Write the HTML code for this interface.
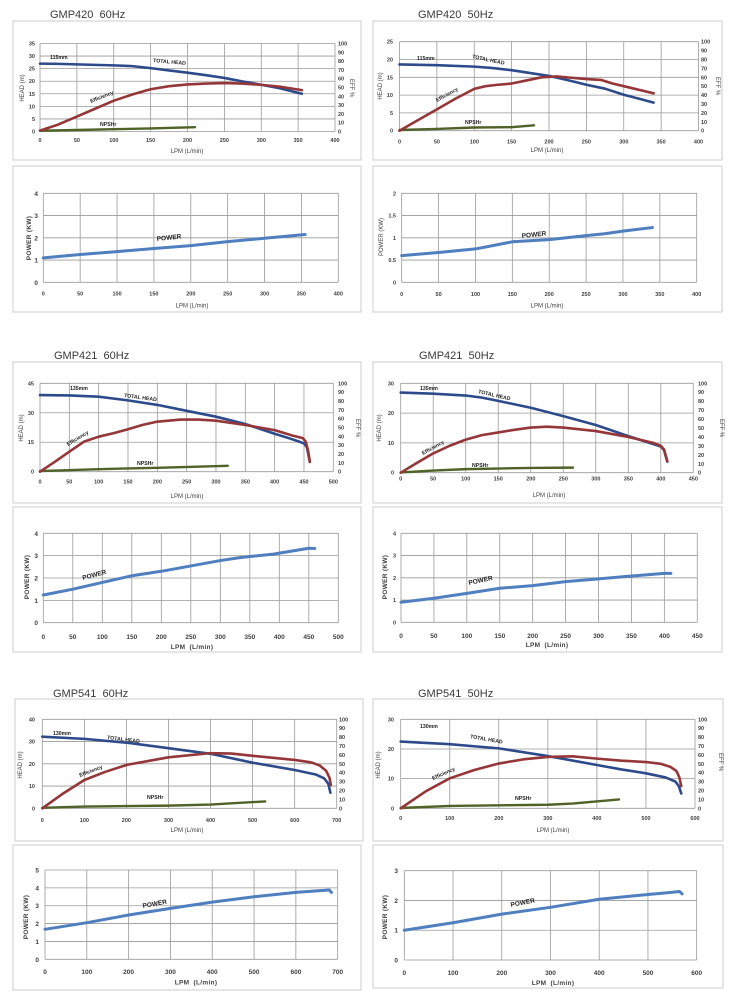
<!DOCTYPE html>
<html><head><meta charset="utf-8"><style>
html,body{margin:0;padding:0;background:#fff;}
svg{display:block;}
text{font-family:"Liberation Sans",Arial,sans-serif;fill:#404040;}
.ttl{font-size:11px;fill:#3a3a3a;white-space:pre;}
.tk{font-size:5.5px;font-weight:bold;}
.tp{font-size:6.5px;font-weight:bold;}
.ax{font-size:6px;}
.axb{font-size:6.5px;font-weight:bold;letter-spacing:0.3px;}
.lb{font-size:5.2px;font-weight:bold;fill:#222;}
.lp{font-size:6.5px;font-weight:bold;fill:#222;}
.e{text-anchor:end;}
.m{text-anchor:middle;}
.box{fill:none;stroke:#d6d6d6;stroke-width:1.2;}
.g{fill:none;stroke:#9a9a9a;stroke-width:0.8;vector-effect:non-scaling-stroke;}
.h{fill:none;stroke:#2d4b8b;stroke-width:2.6;vector-effect:non-scaling-stroke;stroke-linejoin:round;stroke-linecap:round;}
.ef{fill:none;stroke:#953638;stroke-width:2.6;vector-effect:non-scaling-stroke;stroke-linejoin:round;stroke-linecap:round;}
.n{fill:none;stroke:#4f6228;stroke-width:2.4;vector-effect:non-scaling-stroke;stroke-linejoin:round;stroke-linecap:round;}
.p{fill:none;stroke:#4f7fbf;stroke-width:3;vector-effect:non-scaling-stroke;stroke-linejoin:round;stroke-linecap:round;}
</style></head><body>
<svg width="731" height="1003" viewBox="0 0 731 1003" xmlns="http://www.w3.org/2000/svg">
<rect x="0" y="0" width="731" height="1003" fill="#fff"/>

<!-- boxes -->
<rect class="box" x="13" y="21" width="348" height="139"/>
<rect class="box" x="13" y="166" width="348" height="146"/>
<rect class="box" x="373" y="21" width="349" height="139"/>
<rect class="box" x="373" y="166" width="349" height="146"/>
<rect class="box" x="13" y="362" width="348" height="141"/>
<rect class="box" x="13" y="507" width="348" height="145"/>
<rect class="box" x="373" y="362" width="349" height="141"/>
<rect class="box" x="373" y="507" width="349" height="145"/>
<rect class="box" x="15" y="699" width="348" height="142"/>
<rect class="box" x="13" y="845" width="348" height="145"/>
<rect class="box" x="373" y="699" width="350" height="142"/>
<rect class="box" x="373" y="845" width="350" height="143"/>

<!-- titles -->
<text class="ttl" x="50" y="18">GMP420  60Hz</text>
<text class="ttl" x="418" y="18">GMP420  50Hz</text>
<text class="ttl" x="54" y="359">GMP421  60Hz</text>
<text class="ttl" x="419" y="359">GMP421  50Hz</text>
<text class="ttl" x="53" y="697">GMP541  60Hz</text>
<text class="ttl" x="418" y="697">GMP541  50Hz</text>

<!-- ================= P1 ================= -->
<g transform="translate(40,131.5) scale(0.7375,-2.5143)">
<path class="g" d="M0 0V35M50 0V35M100 0V35M150 0V35M200 0V35M250 0V35M300 0V35M350 0V35M400 0V35M0 0H400M0 5H400M0 10H400M0 15H400M0 20H400M0 25H400M0 30H400M0 35H400"/>
<polyline class="n" points="0,0.3 50,0.6 100,0.9 150,1.2 210,1.7"/>
<polyline class="h" points="0,27 25,26.9 50,26.7 75,26.5 100,26.3 125,26 150,25.2 175,24.3 200,23.4 225,22.4 250,21.3 275,19.9 300,18.6 325,17.2 355,15"/>
</g>
<g transform="translate(40,131.5) scale(0.7375,-0.88)">
<polyline class="ef" points="0,1 25,8 50,17 75,26 100,35 125,42 150,48 175,51.5 200,53.5 225,54.5 250,55 275,54.5 300,53 325,51 355,47"/>
</g>
<g class="tk e"><text x="35" y="133.5">0</text><text x="35" y="120.9">5</text><text x="35" y="108.4">10</text><text x="35" y="95.8">15</text><text x="35" y="83.2">20</text><text x="35" y="70.6">25</text><text x="35" y="58.1">30</text><text x="35" y="45.5">35</text></g>
<g class="tk"><text x="338" y="133.5">0</text><text x="338" y="124.7">10</text><text x="338" y="115.9">20</text><text x="338" y="107.1">30</text><text x="338" y="98.3">40</text><text x="338" y="89.5">50</text><text x="338" y="80.7">60</text><text x="338" y="71.9">70</text><text x="338" y="63.1">80</text><text x="338" y="54.3">90</text><text x="338" y="45.5">100</text></g>
<g class="tk m"><text x="40" y="142">0</text><text x="76.9" y="142">50</text><text x="113.8" y="142">100</text><text x="150.6" y="142">150</text><text x="187.5" y="142">200</text><text x="224.4" y="142">250</text><text x="261.3" y="142">300</text><text x="298.1" y="142">350</text><text x="335" y="142">400</text></g>
<text class="ax m" x="187" y="153">LPM (L/min)</text>
<text class="ax m" transform="translate(24,88) rotate(-90)">HEAD (m)</text>
<text class="ax m" transform="translate(350,88) rotate(90)">EFF %</text>
<text class="lb" x="50" y="59">115mm</text>
<text class="lb" transform="translate(153,62) rotate(5)">TOTAL HEAD</text>
<text class="lb" transform="translate(91,103) rotate(-22)">Efficiency</text>
<text class="lb" x="100" y="126">NPSHr</text>

<!-- ================= Q1 ================= -->
<g transform="translate(43.3,282.3) scale(0.7375,-22.25)">
<path class="g" d="M0 0V4M50 0V4M100 0V4M150 0V4M200 0V4M250 0V4M300 0V4M350 0V4M400 0V4M0 0H400M0 1H400M0 2H400M0 3H400M0 4H400"/>
<polyline class="p" points="0,1.1 50,1.25 100,1.38 150,1.52 200,1.65 250,1.83 300,1.98 355,2.15"/>
</g>
<g class="tp e"><text x="38" y="284.8">0</text><text x="38" y="262.5">1</text><text x="38" y="240.3">2</text><text x="38" y="218">3</text><text x="38" y="195.8">4</text></g>
<g class="tk m"><text x="43.3" y="295.5">0</text><text x="80.2" y="295.5">50</text><text x="117.1" y="295.5">100</text><text x="153.9" y="295.5">150</text><text x="190.8" y="295.5">200</text><text x="227.7" y="295.5">250</text><text x="264.6" y="295.5">300</text><text x="301.4" y="295.5">350</text><text x="338.3" y="295.5">400</text></g>
<text class="ax m" x="192" y="307.5">LPM (L/min)</text>
<text class="axb m" transform="translate(31,238) rotate(-90)">POWER (KW)</text>
<text class="lp" transform="translate(157,241) rotate(-6)">POWER</text>

<!-- ================= P2 ================= -->
<g transform="translate(399.5,130.7) scale(0.7475,-3.56)">
<path class="g" d="M0 0V25M50 0V25M100 0V25M150 0V25M200 0V25M250 0V25M300 0V25M350 0V25M400 0V25M0 0H400M0 5H400M0 10H400M0 15H400M0 20H400M0 25H400"/>
<polyline class="n" points="0,0.2 50,0.5 100,0.9 150,1.0 180,1.5"/>
<polyline class="h" points="0,18.6 50,18.4 100,18 125,17.6 150,17 175,16.2 200,15.4 225,14.2 250,12.9 275,11.8 300,10.1 320,9 340,7.9"/>
</g>
<g transform="translate(399.5,130.7) scale(0.7475,-0.89)">
<polyline class="ef" points="0,0 25,12 50,24 75,36 100,47 115,50 130,51.5 150,53 170,56.5 190,60 210,61 230,59.5 250,58 270,57 285,53 300,50 320,46 340,42"/>
</g>
<g class="tk e"><text x="393" y="132.7">0</text><text x="393" y="114.9">5</text><text x="393" y="97.1">10</text><text x="393" y="79.3">15</text><text x="393" y="61.5">20</text><text x="393" y="43.7">25</text></g>
<g class="tk"><text x="701" y="132.7">0</text><text x="701" y="123.8">10</text><text x="701" y="114.9">20</text><text x="701" y="106">30</text><text x="701" y="97.1">40</text><text x="701" y="88.2">50</text><text x="701" y="79.3">60</text><text x="701" y="70.4">70</text><text x="701" y="61.5">80</text><text x="701" y="52.6">90</text><text x="701" y="43.7">100</text></g>
<g class="tk m"><text x="399.5" y="143.5">0</text><text x="436.9" y="143.5">50</text><text x="474.3" y="143.5">100</text><text x="511.6" y="143.5">150</text><text x="549" y="143.5">200</text><text x="586.4" y="143.5">250</text><text x="623.8" y="143.5">300</text><text x="661.1" y="143.5">350</text><text x="698.5" y="143.5">400</text></g>
<text class="ax m" x="547" y="152">LPM (L/min)</text>
<text class="ax m" transform="translate(382,86) rotate(-90)">HEAD (m)</text>
<text class="ax m" transform="translate(716,86) rotate(90)">EFF %</text>
<text class="lb" x="417" y="60">115mm</text>
<text class="lb" transform="translate(472,58) rotate(12)">TOTAL HEAD</text>
<text class="lb" transform="translate(437,102) rotate(-29)">Efficiency</text>
<text class="lb" x="465" y="124">NPSHr</text>

<!-- ================= Q2 ================= -->
<g transform="translate(401.7,282.3) scale(0.7375,-44.5)">
<path class="g" d="M0 0V2M50 0V2M100 0V2M150 0V2M200 0V2M250 0V2M300 0V2M350 0V2M400 0V2M0 0H400M0 0.5H400M0 1H400M0 1.5H400M0 2H400"/>
<polyline class="p" points="0,0.6 50,0.67 100,0.75 125,0.83 150,0.91 200,0.96 250,1.05 275,1.09 300,1.15 340,1.23"/>
</g>
<g class="tk e"><text x="396" y="284.5">0</text><text x="396" y="262.2">0.5</text><text x="396" y="240">1</text><text x="396" y="217.7">1.5</text><text x="396" y="195.5">2</text></g>
<g class="tk m"><text x="401.7" y="296">0</text><text x="438.6" y="296">50</text><text x="475.5" y="296">100</text><text x="512.3" y="296">150</text><text x="549.2" y="296">200</text><text x="586.1" y="296">250</text><text x="623" y="296">300</text><text x="659.8" y="296">350</text><text x="696.7" y="296">400</text></g>
<text class="ax m" x="547" y="307.5">LPM (L/min)</text>
<text class="ax m" transform="translate(383,237) rotate(-90)">POWER (KW)</text>
<text class="lp" transform="translate(522,238) rotate(-6)">POWER</text>

<!-- ================= P3 ================= -->
<g transform="translate(40,471.7) scale(0.5866,-1.9644)">
<path class="g" d="M0 0V45M50 0V45M100 0V45M150 0V45M200 0V45M250 0V45M300 0V45M350 0V45M400 0V45M450 0V45M500 0V45M0 0H500M0 15H500M0 30H500M0 45H500"/>
<polyline class="n" points="0,0.3 100,1.3 200,2 320,3"/>
<polyline class="h" points="0,39 50,38.8 100,38.2 150,36.3 200,34 250,31 300,28 350,24.3 400,19.3 425,17 440,15.5 450,14.4 455,12.5 460,5"/>
</g>
<g transform="translate(40,471.7) scale(0.5866,-0.884)">
<polyline class="ef" points="0,0 25,11 50,22.6 75,34 100,39.6 125,43.5 150,48 175,53 200,56.6 240,59 270,59 300,57.7 350,52.8 400,47 430,41 448,38 453,34 457,24 460,11"/>
</g>
<g class="tk e"><text x="34" y="473.7">0</text><text x="34" y="444.2">15</text><text x="34" y="414.8">30</text><text x="34" y="385.3">45</text></g>
<g class="tk"><text x="338" y="473.7">0</text><text x="338" y="464.9">10</text><text x="338" y="456">20</text><text x="338" y="447.2">30</text><text x="338" y="438.3">40</text><text x="338" y="429.5">50</text><text x="338" y="420.7">60</text><text x="338" y="411.8">70</text><text x="338" y="403">80</text><text x="338" y="394.1">90</text><text x="338" y="385.3">100</text></g>
<g class="tk m"><text x="40" y="483.5">0</text><text x="69.3" y="483.5">50</text><text x="98.7" y="483.5">100</text><text x="128" y="483.5">150</text><text x="157.3" y="483.5">200</text><text x="186.7" y="483.5">250</text><text x="216" y="483.5">300</text><text x="245.3" y="483.5">350</text><text x="274.6" y="483.5">400</text><text x="304" y="483.5">450</text><text x="333.3" y="483.5">500</text></g>
<text class="ax m" x="187" y="498">LPM (L/min)</text>
<text class="ax m" transform="translate(23,428) rotate(-90)">HEAD (m)</text>
<text class="ax m" transform="translate(356,428) rotate(90)">EFF %</text>
<text class="lb" x="70" y="390">135mm</text>
<text class="lb" transform="translate(124,397) rotate(7.5)">TOTAL HEAD</text>
<text class="lb" transform="translate(68,446) rotate(-31)">Efficiency</text>
<text class="lb" x="137" y="465">NPSHr</text>

<!-- ================= Q3 ================= -->
<g transform="translate(43.3,622.7) scale(0.59,-22.35)">
<path class="g" d="M0 0V4M50 0V4M100 0V4M150 0V4M200 0V4M250 0V4M300 0V4M350 0V4M400 0V4M450 0V4M500 0V4M0 0H500M0 1H500M0 2H500M0 3H500M0 4H500"/>
<polyline class="p" points="0,1.24 50,1.5 100,1.8 150,2.1 200,2.3 250,2.54 300,2.78 330,2.9 350,2.96 390,3.07 450,3.33 460,3.32"/>
</g>
<g class="tp e"><text x="38" y="625.2">0</text><text x="38" y="602.9">1</text><text x="38" y="580.5">2</text><text x="38" y="558.1">3</text><text x="38" y="535.8">4</text></g>
<g class="tp m"><text x="43.3" y="639">0</text><text x="72.8" y="639">50</text><text x="102.3" y="639">100</text><text x="131.8" y="639">150</text><text x="161.3" y="639">200</text><text x="190.8" y="639">250</text><text x="220.3" y="639">300</text><text x="249.8" y="639">350</text><text x="279.3" y="639">400</text><text x="308.8" y="639">450</text><text x="338.3" y="639">500</text></g>
<text class="axb m" x="192" y="649" style="white-space:pre">LPM  (L/min)</text>
<text class="axb m" transform="translate(29,577) rotate(-90)">POWER (KW)</text>
<text class="lp" transform="translate(83,580) rotate(-15)">POWER</text>

<!-- ================= P4 ================= -->
<g transform="translate(400.7,472.7) scale(0.6502,-2.98)">
<path class="g" d="M0 0V30M50 0V30M100 0V30M150 0V30M200 0V30M250 0V30M300 0V30M350 0V30M400 0V30M450 0V30M0 0H450M0 10H450M0 20H450M0 30H450"/>
<polyline class="n" points="0,0.1 50,0.7 100,1.2 150,1.4 200,1.6 265,1.7"/>
<polyline class="h" points="0,26.9 50,26.5 100,25.9 125,25.2 150,24.1 200,21.8 250,19 300,16 350,12.3 390,9.5 400,8.8 405,7.6 410,3.7"/>
</g>
<g transform="translate(400.7,472.7) scale(0.6502,-0.894)">
<polyline class="ef" points="0,0 25,11 50,21.6 75,30 100,37 125,42 150,45 175,48 200,50.5 225,51.5 250,50.5 300,46.6 350,40 390,33 400,30 405,26 410,13"/>
</g>
<g class="tk e"><text x="394" y="474.7">0</text><text x="394" y="444.9">10</text><text x="394" y="415.1">20</text><text x="394" y="385.3">30</text></g>
<g class="tk"><text x="698" y="474.7">0</text><text x="698" y="465.8">10</text><text x="698" y="456.8">20</text><text x="698" y="447.9">30</text><text x="698" y="438.9">40</text><text x="698" y="430">50</text><text x="698" y="421">60</text><text x="698" y="412.1">70</text><text x="698" y="403.2">80</text><text x="698" y="394.2">90</text><text x="698" y="385.3">100</text></g>
<g class="tk m"><text x="400.7" y="480.5">0</text><text x="433.2" y="480.5">50</text><text x="465.7" y="480.5">100</text><text x="498.2" y="480.5">150</text><text x="530.8" y="480.5">200</text><text x="563.3" y="480.5">250</text><text x="595.8" y="480.5">300</text><text x="628.3" y="480.5">350</text><text x="660.8" y="480.5">400</text><text x="693.3" y="480.5">450</text></g>
<text class="ax m" x="549" y="497">LPM (L/min)</text>
<text class="ax m" transform="translate(381,428) rotate(-90)">HEAD (m)</text>
<text class="ax m" transform="translate(720,428) rotate(90)">EFF %</text>
<text class="lb" x="420" y="390">135mm</text>
<text class="lb" transform="translate(478,393) rotate(13)">TOTAL HEAD</text>
<text class="lb" transform="translate(423,455) rotate(-29)">Efficiency</text>
<text class="lb" x="472" y="467">NPSHr</text>

<!-- ================= Q4 ================= -->
<g transform="translate(401,622.3) scale(0.6584,-22.25)">
<path class="g" d="M0 0V4M50 0V4M100 0V4M150 0V4M200 0V4M250 0V4M300 0V4M350 0V4M400 0V4M450 0V4M0 0H450M0 1H450M0 2H450M0 3H450M0 4H450"/>
<polyline class="p" points="0,0.9 50,1.08 100,1.3 150,1.53 200,1.65 250,1.83 300,1.95 350,2.08 400,2.2 410,2.2"/>
</g>
<g class="tk e"><text x="396" y="624.5">0</text><text x="396" y="602.2">1</text><text x="396" y="580">2</text><text x="396" y="557.7">3</text><text x="396" y="535.5">4</text></g>
<g class="tp m"><text x="401" y="638">0</text><text x="433.9" y="638">50</text><text x="466.8" y="638">100</text><text x="499.8" y="638">150</text><text x="532.7" y="638">200</text><text x="565.6" y="638">250</text><text x="598.5" y="638">300</text><text x="631.4" y="638">350</text><text x="664.4" y="638">400</text><text x="697.3" y="638">450</text></g>
<text class="axb m" x="547" y="647" style="white-space:pre">LPM  (L/min)</text>
<text class="axb m" transform="translate(387,577) rotate(-90)">POWER (KW)</text>
<text class="lp" transform="translate(469,585) rotate(-12)">POWER</text>

<!-- ================= P5 ================= -->
<g transform="translate(42.3,808.3) scale(0.4206,-2.225)">
<path class="g" d="M0 0V40M100 0V40M200 0V40M300 0V40M400 0V40M500 0V40M600 0V40M700 0V40M0 0H700M0 10H700M0 20H700M0 30H700M0 40H700"/>
<polyline class="n" points="0,0.2 100,0.8 200,1 300,1.2 400,1.7 530,3.1"/>
<polyline class="h" points="0,32.2 100,31.2 200,29.5 300,27 400,24.5 500,20.5 600,17.2 650,15.2 670,13.5 680,11 685,7"/>
</g>
<g transform="translate(42.3,808.3) scale(0.4206,-0.89)">
<polyline class="ef" points="0,0 50,16.8 100,31.8 150,41 200,48.7 300,57.3 400,62 450,61.5 500,59 600,54.3 640,51.5 660,48 675,42 683,34 686,26"/>
</g>
<g class="tk e"><text x="35" y="810.3">0</text><text x="35" y="788.1">10</text><text x="35" y="765.8">20</text><text x="35" y="743.6">30</text><text x="35" y="721.3">40</text></g>
<g class="tk"><text x="339" y="810.3">0</text><text x="339" y="801.4">10</text><text x="339" y="792.5">20</text><text x="339" y="783.6">30</text><text x="339" y="774.7">40</text><text x="339" y="765.8">50</text><text x="339" y="756.9">60</text><text x="339" y="748">70</text><text x="339" y="739.1">80</text><text x="339" y="730.2">90</text><text x="339" y="721.3">100</text></g>
<g class="tk m"><text x="42.3" y="822">0</text><text x="84.4" y="822">100</text><text x="126.4" y="822">200</text><text x="168.5" y="822">300</text><text x="210.5" y="822">400</text><text x="252.6" y="822">500</text><text x="294.7" y="822">600</text><text x="336.7" y="822">700</text></g>
<text class="ax m" x="187" y="832">LPM (L/min)</text>
<text class="ax m" transform="translate(22,765) rotate(-90)">HEAD (m)</text>
<text class="lb" x="53" y="735">130mm</text>
<text class="lb" transform="translate(107,739) rotate(7)">TOTAL HEAD</text>
<text class="lb" transform="translate(80,777) rotate(-21)">Efficiency</text>
<text class="lb" x="147" y="799">NPSHr</text>

<!-- ================= Q5 ================= -->
<g transform="translate(45,959.3) scale(0.4181,-17.86)">
<path class="g" d="M0 0V5M100 0V5M200 0V5M300 0V5M400 0V5M500 0V5M600 0V5M700 0V5M0 0H700M0 1H700M0 2H700M0 3H700M0 4H700M0 5H700"/>
<polyline class="p" points="0,1.68 100,2.05 200,2.48 300,2.85 400,3.2 500,3.5 600,3.75 680,3.88 685,3.75"/>
</g>
<g class="tp e"><text x="39" y="961.8">0</text><text x="39" y="943.9">1</text><text x="39" y="926.1">2</text><text x="39" y="908.2">3</text><text x="39" y="890.4">4</text><text x="39" y="872.5">5</text></g>
<g class="tp m"><text x="45" y="974">0</text><text x="86.8" y="974">100</text><text x="128.6" y="974">200</text><text x="170.4" y="974">300</text><text x="212.2" y="974">400</text><text x="254.1" y="974">500</text><text x="295.9" y="974">600</text><text x="337.7" y="974">700</text></g>
<text class="axb m" x="196" y="984.5" style="white-space:pre">LPM  (L/min)</text>
<text class="axb m" transform="translate(28,917) rotate(-90)">POWER (KW)</text>
<text class="lp" transform="translate(143,908) rotate(-10)">POWER</text>

<!-- ================= P6 ================= -->
<g transform="translate(400.7,808.3) scale(0.4905,-2.9667)">
<path class="g" d="M0 0V30M100 0V30M200 0V30M300 0V30M400 0V30M500 0V30M600 0V30M0 0H600M0 10H600M0 20H600M0 30H600"/>
<polyline class="n" points="0,0.1 100,0.8 200,1 300,1.2 350,1.6 445,3.0"/>
<polyline class="h" points="0,22.5 100,21.6 200,20.2 300,17.6 400,14.6 450,13.1 500,11.8 540,10.4 560,9 567,7.5 572,5"/>
</g>
<g transform="translate(400.7,808.3) scale(0.4905,-0.89)">
<polyline class="ef" points="0,0 50,18.7 100,33.7 150,43 200,50.3 250,55 300,57.7 350,58.4 400,55.8 450,53.5 500,52 530,50 550,46.5 562,42 568,35 572,25"/>
</g>
<g class="tk e"><text x="394" y="810.3">0</text><text x="394" y="780.6">10</text><text x="394" y="751">20</text><text x="394" y="721.3">30</text></g>
<g class="tk"><text x="698" y="810.3">0</text><text x="698" y="801.4">10</text><text x="698" y="792.5">20</text><text x="698" y="783.6">30</text><text x="698" y="774.7">40</text><text x="698" y="765.8">50</text><text x="698" y="756.9">60</text><text x="698" y="748">70</text><text x="698" y="739.1">80</text><text x="698" y="730.2">90</text><text x="698" y="721.3">100</text></g>
<g class="tk m"><text x="400.7" y="820">0</text><text x="449.7" y="820">100</text><text x="498.8" y="820">200</text><text x="547.9" y="820">300</text><text x="596.9" y="820">400</text><text x="646" y="820">500</text><text x="695" y="820">600</text></g>
<text class="ax m" x="553" y="832">LPM (L/min)</text>
<text class="ax m" transform="translate(380,765) rotate(-90)">HEAD (m)</text>
<text class="ax m" transform="translate(719,762) rotate(90)">EFF %</text>
<text class="lb" x="420" y="728">130mm</text>
<text class="lb" transform="translate(470,738) rotate(10)">TOTAL HEAD</text>
<text class="lb" transform="translate(433,780) rotate(-24)">Efficiency</text>
<text class="lb" x="515" y="800">NPSHr</text>

<!-- ================= Q6 ================= -->
<g transform="translate(404.3,960) scale(0.4873,-29.77)">
<path class="g" d="M0 0V3M100 0V3M200 0V3M300 0V3M400 0V3M500 0V3M600 0V3M0 0H600M0 1H600M0 2H600M0 3H600"/>
<polyline class="p" points="0,1 100,1.25 200,1.54 300,1.77 400,2.04 500,2.2 540,2.26 565,2.3 570,2.22"/>
</g>
<g class="tp e"><text x="398" y="962.5">0</text><text x="398" y="932.7">1</text><text x="398" y="903">2</text><text x="398" y="873.2">3</text></g>
<g class="tp m"><text x="404.3" y="975">0</text><text x="453" y="975">100</text><text x="501.8" y="975">200</text><text x="550.5" y="975">300</text><text x="599.2" y="975">400</text><text x="648" y="975">500</text><text x="696.7" y="975">600</text></g>
<text class="axb m" x="553" y="985" style="white-space:pre">LPM  (L/min)</text>
<text class="axb m" transform="translate(387,917) rotate(-90)">POWER (KW)</text>
<text class="lp" transform="translate(511,907) rotate(-11)">POWER</text>

</svg>
</body></html>
